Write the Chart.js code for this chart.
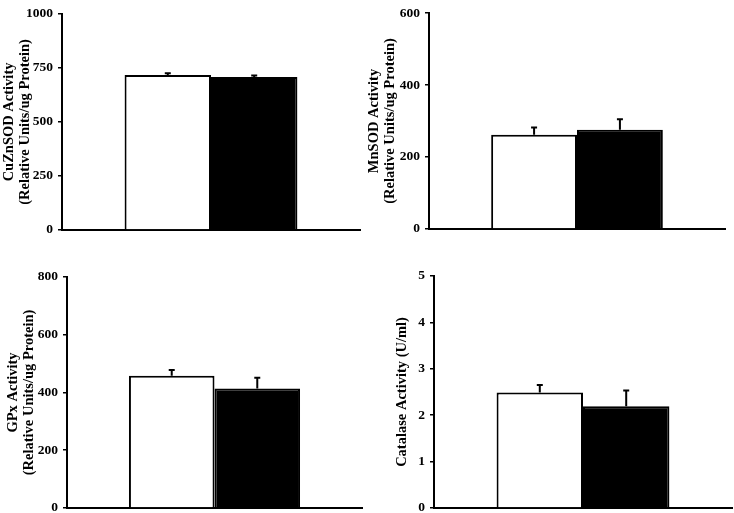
<!DOCTYPE html>
<html>
<head>
<meta charset="utf-8">
<script src="https://cdn.jsdelivr.net/npm/chart.js@4.4.1/dist/chart.umd.min.js"></script>
<style>
  html, body { margin: 0; padding: 0; background: #fff; }
  body { width: 734px; height: 513px; position: relative; overflow: hidden; }
  .panel { position: absolute; }
</style>
</head>
<body>
<div class="panel" style="left:0px;top:0px;"><canvas id="c1" width="362" height="243"></canvas></div>
<div class="panel" style="left:367px;top:0px;"><canvas id="c2" width="360" height="242"></canvas></div>
<div class="panel" style="left:0px;top:262px;"><canvas id="c3" width="364" height="259"></canvas></div>
<div class="panel" style="left:367px;top:262px;"><canvas id="c4" width="367" height="259"></canvas></div>
<script>
// ---- data ----
const categories = [''];
const groupNames = ['Control', 'Treated'];

const cuznsodMeans = [718, 708];
const cuznsodErrors = [8, 7];
const mnsodMeans = [262, 276];
const mnsodErrors = [20, 29];
const gpxMeans = [458, 414];
const gpxErrors = [20, 37];
const catalaseMeans = [2.49, 2.19];
const catalaseErrors = [0.16, 0.34];

const cuznsodTicks = [0, 250, 500, 750, 1000];
const mnsodTicks = [0, 200, 400, 600];
const gpxTicks = [0, 200, 400, 600, 800];
const catalaseTicks = [0, 1, 2, 3, 4, 5];

const cuznsodTitle = ['CuZnSOD Activity', '(Relative Units/ug Protein)'];
const mnsodTitle = ['MnSOD Activity', '(Relative Units/ug Protein)'];
const gpxTitle = ['GPx Activity', '(Relative Units/ug Protein)'];
const catalaseTitle = 'Catalase Activity (U/ml)';

// ---- error bar plugin ----
const errorBarPlugin = {
  id: 'errorBars',
  afterDatasetsDraw(chart) {
    const ctx = chart.ctx;
    const yScale = chart.scales.y;
    ctx.save();
    ctx.strokeStyle = '#000';
    ctx.lineWidth = 2;
    chart.data.datasets.forEach((ds, di) => {
      const meta = chart.getDatasetMeta(di);
      meta.data.forEach((bar, i) => {
        const v = ds.data[i];
        const e = ds.errors[i];
        const x = bar.x;
        const y0 = yScale.getPixelForValue(v);
        const y1 = yScale.getPixelForValue(v + e);
        ctx.beginPath();
        ctx.moveTo(x, y0);
        ctx.lineTo(x, y1);
        ctx.moveTo(x - 3, y1);
        ctx.lineTo(x + 3, y1);
        ctx.stroke();
      });
    });
    ctx.restore();
  }
};

const serif = "'Liberation Serif', 'Times New Roman', serif";

function makeChart(id, means, errors, ticks, title, opts) {
  const max = ticks[ticks.length - 1];
  const step = ticks[1] - ticks[0];
  return new Chart(document.getElementById(id), {
    type: 'bar',
    data: {
      labels: categories,
      datasets: [
        { label: groupNames[0], data: means.slice(0, 1), errors: errors.slice(0, 1),
          backgroundColor: '#ffffff', borderColor: '#000000', borderWidth: 2 },
        { label: groupNames[1], data: means.slice(1, 2), errors: errors.slice(1, 2),
          backgroundColor: '#000000', borderColor: '#000000', borderWidth: 2 }
      ]
    },
    options: {
      responsive: false,
      animation: false,
      events: [],
      layout: { padding: { top: opts.top, right: opts.right, bottom: 2, left: 0 } },
      plugins: { legend: { display: false }, tooltip: { enabled: false } },
      datasets: { bar: { categoryPercentage: 0.58, barPercentage: 1.0 } },
      scales: {
        x: {
          grid: { display: false, drawTicks: false },
          border: { display: true, color: '#000', width: 2 },
          ticks: { display: false },
          afterFit(s) { s.height = 0; }
        },
        y: {
          min: 0, max: max,
          afterBuildTicks(s) { s.ticks = ticks.map(v => ({ value: v })); },
          afterFit(s) { s.width = opts.axisX; },
          grid: { drawOnChartArea: false, drawTicks: true, tickLength: 4, color: '#000', lineWidth: 1.5 },
          border: { display: true, color: '#000', width: 2 },
          ticks: {
            color: '#000', padding: 5, stepSize: step,
            callback: (v) => String(v),
            font: { family: serif, size: 13.5, weight: 'bold' }
          },
          title: {
            display: true, text: title, color: '#000',
            padding: { top: opts.titlePad, bottom: 0 },
            font: { family: serif, size: 14.5, weight: 'bold', lineHeight: 1.05 }
          }
        }
      }
    },
    plugins: [errorBarPlugin]
  });
}

makeChart('c1', cuznsodMeans, cuznsodErrors, cuznsodTicks, cuznsodTitle, { top: 14, right: 2, axisX: 62, titlePad: 2 });
makeChart('c2', mnsodMeans, mnsodErrors, mnsodTicks, mnsodTitle, { top: 7, right: 2, axisX: 62, titlePad: 0 });
makeChart('c3', gpxMeans, gpxErrors, gpxTicks, gpxTitle, { top: 15, right: 2, axisX: 67, titlePad: 6 });
makeChart('c4', catalaseMeans, catalaseErrors, catalaseTicks, catalaseTitle, { top: 14, right: 2, axisX: 67, titlePad: 28 });
</script>
</body>
</html>
